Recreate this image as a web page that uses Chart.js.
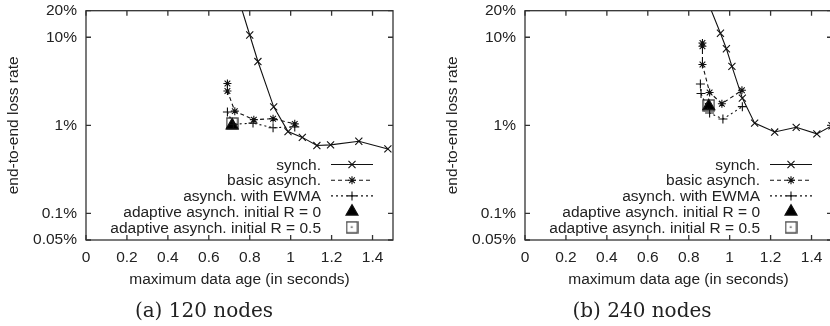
<!DOCTYPE html>
<html lang="en">
<head>
  <meta charset="UTF-8" />
  <title>end-to-end loss rate vs maximum data age</title>
  <script src="https://cdn.jsdelivr.net/npm/chart.js@4"></script>
  <style>
    body {
      margin: 0;
      width: 830px;
      height: 326px;
      overflow: hidden;
      background: #fff;
      position: relative;
    }
    canvas {
      position: absolute;
      top: 0;
    }
    .caption {
      position: absolute;
      top: 299px;
      line-height: 22px;
      font-family: "DejaVu Serif", serif;
      font-size: 20px;
      color: #222;
      white-space: nowrap;
      transform: translateX(-50%);
    }
  </style>
</head>
<body>

  <canvas id="chartA" width="415" height="326" style="left:0"></canvas>
  <canvas id="chartB" width="415" height="326" style="left:439px"></canvas>
  <div class="caption" style="left:204px">(a) 120 nodes</div>
  <div class="caption" style="left:642px">(b) 240 nodes</div>

  <script>
    // axis ticks (loss rate in %)
    const xTicks = [0, 0.2, 0.4, 0.6, 0.8, 1, 1.2, 1.4];
    const yTicks = [0.05, 0.1, 1, 10, 20];

    const labels = ['synch.', 'basic asynch.', 'asynch. with EWMA',
      'adaptive asynch. initial R = 0', 'adaptive asynch. initial R = 0.5'];

    // (a) 120 nodes
    const synchAgeA = [0.74, 0.80, 0.84, 0.917, 0.987, 1.057, 1.128, 1.195, 1.333, 1.475];
    const synchLossA = [30, 10.6, 5.3, 1.62, 0.85, 0.73, 0.59, 0.60, 0.66, 0.54];
    const basicAgeA = [0.691, 0.691, 0.727, 0.82, 0.914, 1.02];
    const basicLossA = [2.98, 2.45, 1.45, 1.16, 1.19, 1.04];
    const ewmaAgeA = [0.691, 0.72, 0.816, 0.914, 1.02];
    const ewmaLossA = [1.42, 1.03, 1.06, 0.94, 0.96];
    const adapt0A = [0.714, 1.0];
    const adapt05A = [0.714, 1.05];

    // (b) 240 nodes
    const synchAgeB = [0.88, 0.955, 0.984, 1.011, 1.062, 1.122, 1.22, 1.325, 1.426, 1.5];
    const synchLossB = [30, 11.1, 7.4, 4.66, 2.04, 1.06, 0.84, 0.95, 0.80, 0.99];
    const basicAgeB = [0.867, 0.867, 0.867, 0.902, 0.962, 1.06];
    const basicLossB = [8.6, 7.9, 4.9, 2.36, 1.76, 2.5];
    const ewmaAgeB = [0.857, 0.86, 0.902, 0.967, 1.062];
    const ewmaLossB = [2.95, 2.3, 1.38, 1.18, 1.63];
    const adapt0B = [0.898, 1.65];
    const adapt05B = [0.898, 1.68];

    const FONT = '"Liberation Sans", Arial, sans-serif';

    // gnuplot style hollow square with a dot in the middle
    function boxMark(size) {
      const c = document.createElement('canvas');
      c.width = c.height = size;
      const g = c.getContext('2d');
      g.strokeStyle = '#444';
      g.lineWidth = 1.4;
      g.strokeRect(1, 1, size - 2, size - 2);
      g.fillStyle = '#444';
      g.fillRect(size / 2 - 1, size / 2 - 1, 1.6, 1.6);
      return c;
    }
    const squareMark = boxMark(13);

    function pts(xs, ys) {
      return xs.map((x, i) => ({ x: x, y: ys[i] }));
    }

    function makeDatasets(s) {
      const common = { borderColor: '#111', pointBorderColor: '#111', backgroundColor: '#111',
        pointBackgroundColor: '#111', tension: 0, borderWidth: 1.1, pointBorderWidth: 1.1 };
      return [
        Object.assign({}, common, { label: labels[0], data: pts(s[0], s[1]), showLine: true,
          borderDash: [], pointStyle: 'crossRot', pointRadius: 5 }),
        Object.assign({}, common, { label: labels[1], data: pts(s[2], s[3]), showLine: true,
          borderDash: [4, 3], pointStyle: 'star', pointRadius: 4 }),
        Object.assign({}, common, { label: labels[2], data: pts(s[4], s[5]), showLine: true,
          borderDash: [2, 3], pointStyle: 'cross', pointRadius: 4.5 }),
        Object.assign({}, common, { label: labels[3], data: [{ x: s[6][0], y: s[6][1] }], showLine: false,
          borderDash: [], pointStyle: 'triangle', pointRadius: 7, pointBackgroundColor: '#000' }),
        Object.assign({}, common, { label: labels[4], data: [{ x: s[7][0], y: s[7][1] }], showLine: false,
          borderDash: [], pointStyle: squareMark, pointRadius: 7 })
      ];
    }

    // frame plus inward ticks on all four sides
    const framePlugin = {
      id: 'frame',
      afterDatasetsDraw(chart) {
        const { ctx, chartArea: a, scales } = chart;
        ctx.save();
        ctx.strokeStyle = '#333';
        ctx.lineWidth = 1.3;
        ctx.beginPath();
        scales.x.ticks.forEach(t => {
          const px = scales.x.getPixelForValue(t.value);
          ctx.moveTo(px, a.bottom); ctx.lineTo(px, a.bottom - 5);
          ctx.moveTo(px, a.top); ctx.lineTo(px, a.top + 5);
        });
        scales.y.ticks.forEach(t => {
          const py = scales.y.getPixelForValue(t.value);
          ctx.moveTo(a.left, py); ctx.lineTo(a.left + 5, py);
          ctx.moveTo(a.right, py); ctx.lineTo(a.right - 5, py);
        });
        ctx.stroke();
        ctx.strokeRect(a.left, a.top, a.right - a.left, a.bottom - a.top);
        ctx.restore();
      }
    };

    // key in the lower right corner, text first then the sample
    const keyPlugin = {
      id: 'key',
      afterDatasetsDraw(chart) {
        const { ctx, chartArea: a } = chart;
        ctx.save();
        ctx.font = '15.5px ' + FONT;
        ctx.textAlign = 'right';
        ctx.textBaseline = 'middle';
        chart.data.datasets.forEach((ds, i) => {
          const y = a.bottom - 12.7 - 15.7 * (4 - i);
          ctx.fillStyle = '#222';
          ctx.fillText(ds.label, a.right - 72, y + 1);
          ctx.strokeStyle = ds.borderColor;
          ctx.lineWidth = ds.borderWidth;
          if (ds.showLine) {
            ctx.setLineDash(ds.borderDash);
            ctx.beginPath();
            ctx.moveTo(a.right - 62, y);
            ctx.lineTo(a.right - 20, y);
            ctx.stroke();
            ctx.setLineDash([]);
          }
          ctx.fillStyle = ds.pointBackgroundColor;
          Chart.helpers.drawPoint(ctx, { pointStyle: ds.pointStyle, radius: ds.pointRadius,
            rotation: 0, borderWidth: ds.pointBorderWidth }, a.right - 41, y);
        });
        ctx.restore();
      }
    };

    function makeChart(id, series) {
      return new Chart(document.getElementById(id), {
        type: 'scatter',
        data: { datasets: makeDatasets(series) },
        options: {
          responsive: false,
          animation: false,
          layout: { padding: { top: 10.7, right: 22, bottom: 0, left: 0 } },
          plugins: { legend: { display: false }, tooltip: { enabled: false } },
          scales: {
            x: {
              type: 'linear',
              min: 0,
              max: 1.5,
              afterBuildTicks: s => { s.ticks = xTicks.map(v => ({ value: v })); },
              afterFit: s => { s.height = 86; s.paddingLeft = 0; s.paddingRight = 0; },
              grid: { display: false, drawTicks: false },
              border: { display: false },
              ticks: { autoSkip: false, maxRotation: 0, padding: 8, color: '#222',
                font: { family: FONT, size: 15.5 }, callback: v => String(v) },
              title: { display: true, text: 'maximum data age (in seconds)', color: '#222',
                font: { family: FONT, size: 15.5 }, padding: { top: 4, bottom: 37 } }
            },
            y: {
              type: 'logarithmic',
              min: 0.05,
              max: 20,
              afterBuildTicks: s => { s.ticks = yTicks.map(v => ({ value: v })); },
              afterFit: s => { s.width = 86; s.paddingTop = 0; s.paddingBottom = 0; },
              grid: { display: false, drawTicks: false },
              border: { display: false },
              ticks: { autoSkip: false, padding: 9, color: '#222',
                font: { family: FONT, size: 15.5 }, callback: v => v + '%' },
              title: { display: true, text: 'end-to-end loss rate', color: '#222',
                font: { family: FONT, size: 15.5 }, padding: { top: 4, bottom: 4 } }
            }
          }
        },
        plugins: [framePlugin, keyPlugin]
      });
    }

    makeChart('chartA', [synchAgeA, synchLossA, basicAgeA, basicLossA, ewmaAgeA, ewmaLossA, adapt0A, adapt05A]);
    makeChart('chartB', [synchAgeB, synchLossB, basicAgeB, basicLossB, ewmaAgeB, ewmaLossB, adapt0B, adapt05B]);
  </script>

</body>
</html>
